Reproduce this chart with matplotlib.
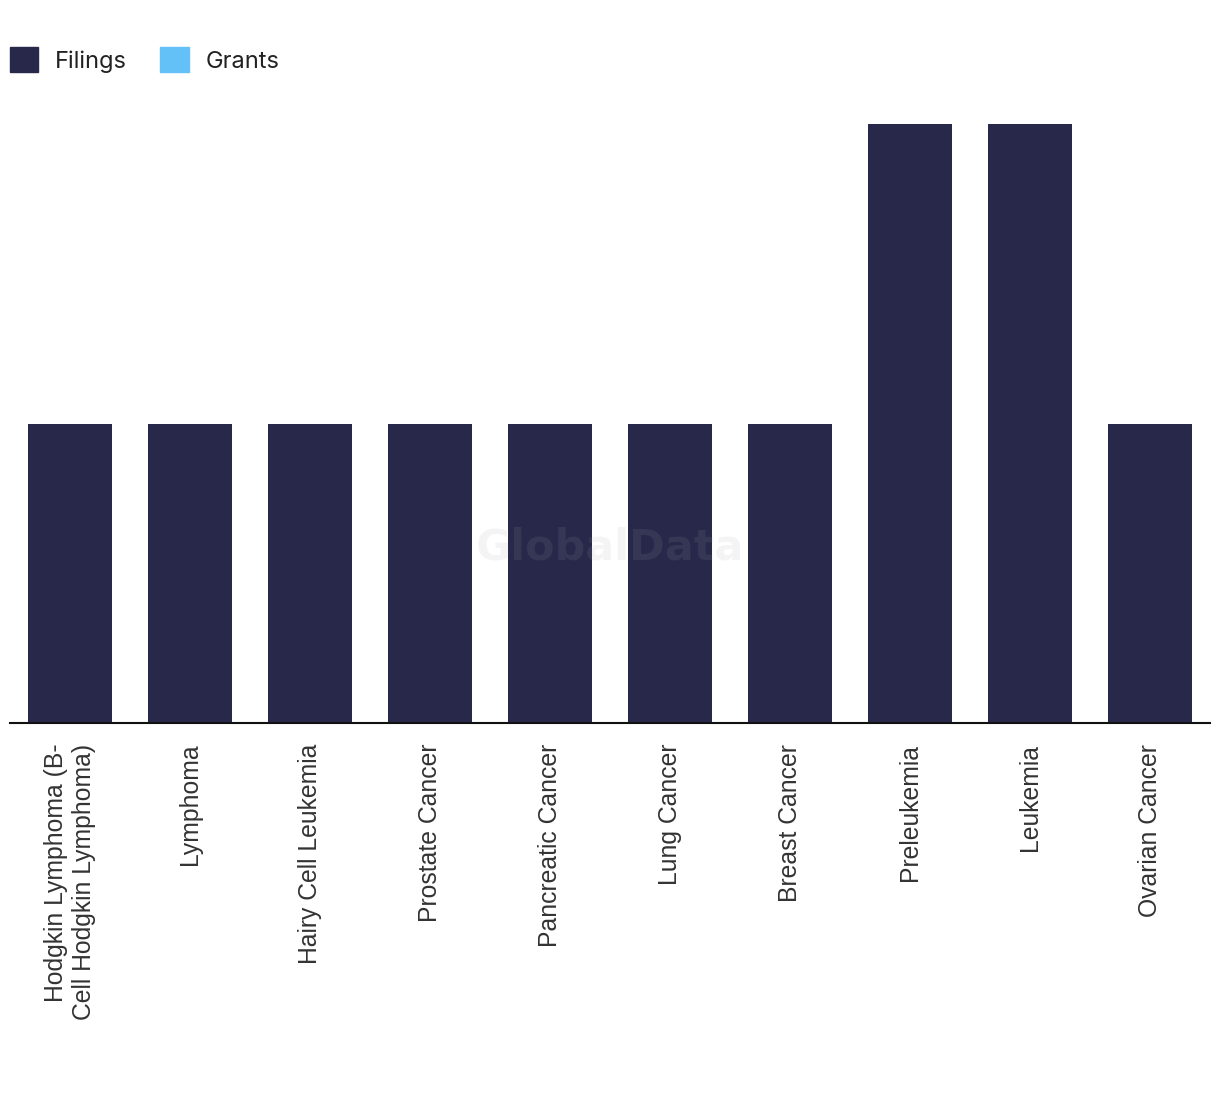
import matplotlib.pyplot as plt
from matplotlib.patches import Patch

categories = ['Hodgkin Lymphoma (B-\nCell Hodgkin Lymphoma)', 'Lymphoma', 'Hairy Cell Leukemia',
              'Prostate Cancer', 'Pancreatic Cancer', 'Lung Cancer', 'Breast Cancer',
              'Preleukemia', 'Leukemia', 'Ovarian Cancer']
filings = [1, 1, 1, 1, 1, 1, 1, 2, 2, 1]
grants = [0, 0, 0, 0, 0, 0, 0, 0, 0, 0]

c_filings = '#27284a'
c_grants = '#63c1f8'

fig = plt.figure(figsize=(12.2, 10.94), dpi=100)
ax = fig.add_axes([10 / 1220, 1 - 723 / 1094, 1200 / 1220, (723 - 124) / 1094])

x = range(len(categories))
ax.bar(x, filings, width=0.7, color=c_filings)
ax.bar(x, grants, width=0.7, bottom=filings, color=c_grants)

ax.set_xlim(-0.5, len(categories) - 0.5)
ax.set_ylim(0, 2)
ax.set_yticks([])
for s in ['top', 'right', 'left']:
    ax.spines[s].set_visible(False)
ax.spines['bottom'].set_linewidth(1.5)
ax.spines['bottom'].set_color('#111111')
ax.set_xticks(list(x))
ax.set_xticklabels(categories, rotation=90, ha='center', va='top',
                   fontsize=17.8, color='#333333', family='Liberation Sans',
                   multialignment='right', linespacing=1.25)
ax.tick_params(axis='x', length=0, pad=15)

# watermark
fig.text(610 / 1220, 1 - 548 / 1094, 'GlobalData', ha='center', va='center',
         fontsize=31, fontweight='bold', color='#aaaaaa', alpha=0.12,
         family='DejaVu Sans')

handles = [Patch(color=c_filings, label='Filings'), Patch(color=c_grants, label='Grants')]
fig.legend(handles=handles, loc='center left', bbox_to_anchor=(10 / 1220, 1 - 60 / 1094),
           ncol=2, frameon=False, handlelength=1.2, handleheight=1.2,
           handletextpad=0.72, columnspacing=1.4, borderpad=0, borderaxespad=0,
           labelcolor='#222222', prop={'family': 'Inter', 'size': 17})

fig.savefig('out.png', dpi=100)
